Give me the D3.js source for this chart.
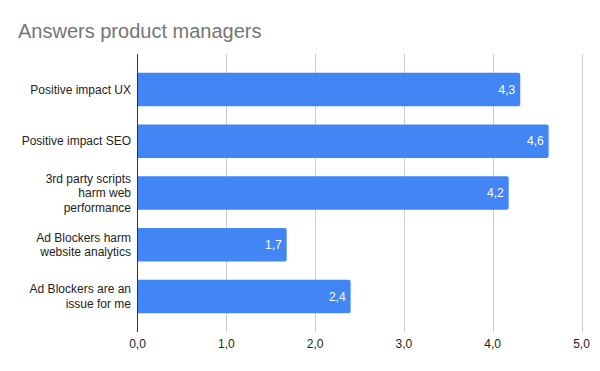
<!DOCTYPE html>
<html>
<head>
<meta charset="utf-8">
<script src="https://cdn.jsdelivr.net/npm/d3@7"></script>
<style>
  body { margin: 0; background: #fff; }
  svg { display: block; font-family: "Liberation Sans", Arial, sans-serif; }
</style>
</head>
<body>
<svg width="600" height="371"></svg>
<script>
// data
var categories = [
	["Positive impact UX"],
	["Positive impact SEO"],
	["3rd party scripts", "harm web", "performance"],
	["Ad Blockers harm", "website analytics"],
	["Ad Blockers are an", "issue for me"]
];
var values = [4.31, 4.63, 4.18, 1.68, 2.40];
var xTicks = [0, 1, 2, 3, 4, 5];

var svg = d3.select("svg"),
	width = +svg.attr("width"),
	height = +svg.attr("height");

var plotLeft = 137.5, plotRight = 581.5, plotTop = 54, plotBottom = 332;

var x = d3.scaleLinear().domain([0, 5]).range([plotLeft, plotRight]);
var y = d3.scaleBand()
	.domain(d3.range(values.length))
	.range([63.5, 322.5])
	.paddingInner(0.355)
	.paddingOuter(0.18);

var fmt = function (d) { return d3.format(".1f")(d).replace(".", ","); };

// title
svg.append("text")
	.attr("x", 18)
	.attr("y", 38)
	.style("font-size", "20px")
	.style("fill", "#757575")
	.text("Answers product managers");

// gridlines
svg.append("g")
	.selectAll("line")
	.data(xTicks.slice(1))
	.enter().append("line")
	.attr("x1", function (d) { return Math.round(x(d)) + 0.5; })
	.attr("x2", function (d) { return Math.round(x(d)) + 0.5; })
	.attr("y1", plotTop)
	.attr("y2", plotBottom)
	.style("stroke", "#cccccc")
	.style("stroke-width", 1);

// bars (rounded right end only)
function barPath(d, i) {
	var x0 = x(0), x1 = x(d), y0 = y(i), h = y.bandwidth(), r = 2;
	return "M" + x0 + "," + y0 +
		"H" + (x1 - r) +
		"Q" + x1 + "," + y0 + " " + x1 + "," + (y0 + r) +
		"V" + (y0 + h - r) +
		"Q" + x1 + "," + (y0 + h) + " " + (x1 - r) + "," + (y0 + h) +
		"H" + x0 + "Z";
}

svg.append("g")
	.selectAll("path")
	.data(values)
	.enter().append("path")
	.attr("d", barPath)
	.style("fill", "#4285f4");

// value labels
svg.append("g")
	.selectAll("text")
	.data(values)
	.enter().append("text")
	.attr("x", function (d) { return x(d) - 5; })
	.attr("y", function (d, i) { return y(i) + y.bandwidth() / 2; })
	.attr("dy", "0.35em")
	.attr("text-anchor", "end")
	.style("font-size", "12px")
	.style("fill", "#ffffff")
	.text(fmt);

// axis line
svg.append("line")
	.attr("x1", plotLeft).attr("x2", plotLeft)
	.attr("y1", plotTop).attr("y2", plotBottom)
	.style("stroke", "#333333")
	.style("stroke-width", 1);

// category labels
var cat = svg.append("g")
	.selectAll("text")
	.data(categories)
	.enter().append("text")
	.attr("text-anchor", "end")
	.style("font-size", "12px")
	.style("fill", "#222222")
	.attr("y", function (d, i) { return y(i) + y.bandwidth() / 2; });

cat.selectAll("tspan")
	.data(function (d) { return d.map(function (t, j) { return { t: t, j: j, n: d.length }; }); })
	.enter().append("tspan")
	.attr("x", 131)
	.attr("dy", function (d) { return d.j == 0 ? (0.35 - (d.n - 1) * 0.6) + "em" : "1.2em"; })
	.text(function (d) { return d.t; });

// x tick labels
svg.append("g")
	.selectAll("text")
	.data(xTicks)
	.enter().append("text")
	.attr("x", function (d) { return x(d); })
	.attr("y", 348)
	.attr("text-anchor", "middle")
	.style("font-size", "12px")
	.style("fill", "#222222")
	.text(fmt);
</script>
</body>
</html>
